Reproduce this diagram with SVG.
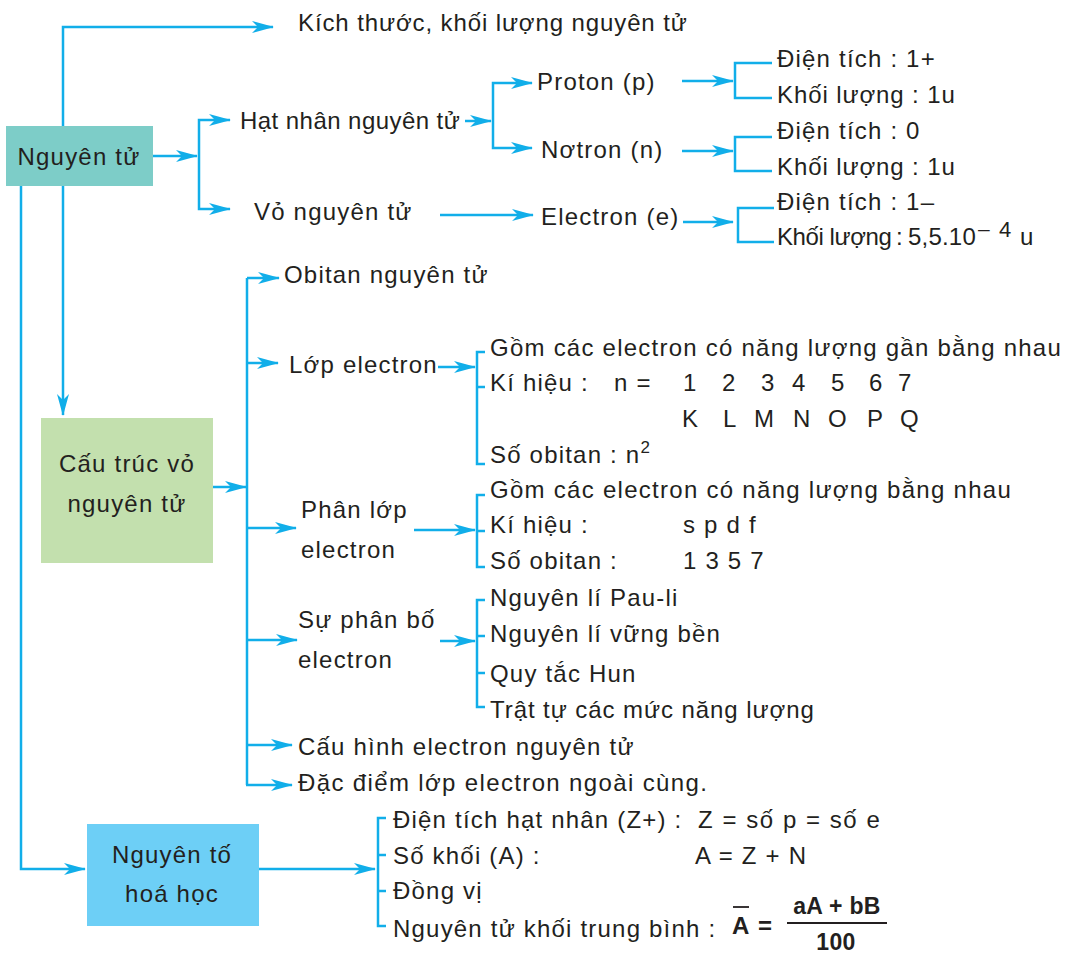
<svg xmlns="http://www.w3.org/2000/svg" width="1074" height="955" viewBox="0 0 1074 955">
<defs>
<marker id="ah" markerUnits="userSpaceOnUse" viewBox="0 0 22 12" markerWidth="22" markerHeight="12" refX="21" refY="6" orient="auto">
<path d="M22,6 L0,0 L6,6 L0,12 Z" fill="#11aee9"/>
</marker>
<style>
text{font-family:"Liberation Sans",Arial,sans-serif;font-size:24px;letter-spacing:1.2px;fill:#231f20}
.c{text-anchor:middle}
.sup{font-size:17px}
.b{font-weight:bold;letter-spacing:0.3px}
.ln{fill:none;stroke:#11aee9;stroke-width:2.5}
.ar{fill:none;stroke:#11aee9;stroke-width:2.5;marker-end:url(#ah)}
</style>
</defs>
<rect width="1074" height="955" fill="#ffffff"/>

<g id="connectors">
<path class="ar" d="M63,126 V27 H273"/>
<path class="ar" d="M153,156 H197"/>
<path class="ar" d="M199,156 V120 H230"/>
<path class="ar" d="M199,156 V209 H230"/>
<path class="ar" d="M465,121 H491"/>
<path class="ar" d="M493,121 V83 H532"/>
<path class="ar" d="M493,121 V148 H532"/>
<path class="ar" d="M682,81 H733"/>
<path class="ar" d="M682,151 H733"/>
<path class="ar" d="M683,222 H733"/>
<path class="ar" d="M440,215 H533"/>
<path class="ln" d="M772,63 H735 V98 H772"/>
<path class="ln" d="M772,137 H735 V171 H772"/>
<path class="ln" d="M774,208 H738 V242 H774"/>
<path class="ar" d="M63,186 V415"/>
<path class="ar" d="M21,186 V869 H85"/>
<path class="ar" d="M213,487 H246"/>
<path class="ln" d="M247,278 V785"/>
<path class="ar" d="M247,278 H279"/>
<path class="ar" d="M247,363 H278"/>
<path class="ar" d="M247,528 H296"/>
<path class="ar" d="M247,640 H297"/>
<path class="ar" d="M247,745 H292"/>
<path class="ar" d="M246,785 H292"/>
<path class="ar" d="M438,367 H475"/>
<path class="ln" d="M485,352 H477 V464 H485 M477,387 H485"/>
<path class="ar" d="M414,530 H475"/>
<path class="ln" d="M485,495 H477 V567 H485 M477,531 H485"/>
<path class="ar" d="M440,641 H475"/>
<path class="ln" d="M485,600 H477 V707 H485 M477,636 H485 M477,673 H485"/>
<path class="ar" d="M259,869 H375"/>
<path class="ln" d="M386,818 H378 V926 H386 M378,855 H386 M378,891 H386"/>
</g>

<g id="n-nguyentu">
<rect x="6" y="126" width="147" height="60" fill="#7dcdc8"/>
<text x="79" y="165" class="c">Nguyên tử</text>
</g>
<g id="n-kichthuoc"><text x="298" y="31" textLength="390" lengthAdjust="spacing">Kích thước, khối lượng nguyên tử</text></g>
<g id="n-hatnhan"><text x="240" y="129" textLength="221" lengthAdjust="spacing">Hạt nhân nguyên tử</text></g>
<g id="n-vo"><text x="254" y="220">Vỏ nguyên tử</text></g>
<g id="n-proton"><text x="537" y="90">Proton (p)</text></g>
<g id="n-notron"><text x="541" y="158">Nơtron (n)</text></g>
<g id="n-electron"><text x="541" y="225">Electron (e)</text></g>
<g id="n-proton-props">
<text x="777" y="67">Điện tích : 1+</text>
<text x="777" y="103" textLength="179" lengthAdjust="spacing">Khối lượng : 1u</text>
</g>
<g id="n-notron-props">
<text x="777" y="139">Điện tích : 0</text>
<text x="777" y="175" textLength="179" lengthAdjust="spacing">Khối lượng : 1u</text>
</g>
<g id="n-electron-props">
<text x="777" y="210">Điện tích : 1–</text>
<text x="777" y="245" textLength="116" lengthAdjust="spacing">Khối lượng</text>
<text x="896" y="245">:</text>
<text x="908" y="245" style="letter-spacing:0.2px">5,5.10</text>
<text x="978" y="236" style="font-size:21px;letter-spacing:0">–</text>
<text x="999" y="237" style="font-size:22px">4</text>
<text x="1020" y="245">u</text>
</g>

<g id="n-cautruc">
<rect x="41" y="418" width="172" height="145" fill="#c3e0ae"/>
<text x="127" y="472" class="c">Cấu trúc vỏ</text>
<text x="127" y="512" class="c">nguyên tử</text>
</g>
<g id="n-obitan"><text x="284" y="283">Obitan nguyên tử</text></g>
<g id="n-lop"><text x="289" y="373">Lớp electron</text></g>
<g id="n-lop-props">
<text x="490" y="356" textLength="572" lengthAdjust="spacing">Gồm các electron có năng lượng gần bằng nhau</text>
<text x="490" y="391">Kí hiệu :</text>
<text x="614" y="391">n =</text>
<text x="683" y="391">1</text>
<text x="722" y="391">2</text>
<text x="761" y="391">3</text>
<text x="792" y="391">4</text>
<text x="831" y="391">5</text>
<text x="869" y="391">6</text>
<text x="898" y="391">7</text>
<text x="682" y="427">K</text>
<text x="723" y="427">L</text>
<text x="754" y="427">M</text>
<text x="793" y="427">N</text>
<text x="828" y="427">O</text>
<text x="867" y="427">P</text>
<text x="900" y="427">Q</text>
<text x="490" y="463">Số obitan : n<tspan class="sup" dy="-10">2</tspan></text>
</g>
<g id="n-phanlop">
<text x="301" y="518">Phân lớp</text>
<text x="301" y="558">electron</text>
</g>
<g id="n-phanlop-props">
<text x="490" y="498" textLength="522" lengthAdjust="spacing">Gồm các electron có năng lượng bằng nhau</text>
<text x="490" y="533">Kí hiệu :</text>
<text x="683" y="533">s p d f</text>
<text x="490" y="569">Số obitan :</text>
<text x="683" y="569">1 3 5 7</text>
</g>
<g id="n-phanbo">
<text x="298" y="628">Sự phân bố</text>
<text x="298" y="668">electron</text>
</g>
<g id="n-phanbo-props">
<text x="490" y="606">Nguyên lí Pau-li</text>
<text x="490" y="642">Nguyên lí vững bền</text>
<text x="490" y="682">Quy tắc Hun</text>
<text x="490" y="718" textLength="325" lengthAdjust="spacing">Trật tự các mức năng lượng</text>
</g>
<g id="n-cauhinh"><text x="298" y="755">Cấu hình electron nguyên tử</text></g>
<g id="n-dacdiem"><text x="298" y="791" textLength="410" lengthAdjust="spacing">Đặc điểm lớp electron ngoài cùng.</text></g>

<g id="n-nguyento">
<rect x="87" y="824" width="172" height="102" fill="#6dcff6"/>
<text x="172" y="863" class="c">Nguyên tố</text>
<text x="172" y="902" class="c">hoá học</text>
</g>
<g id="n-nguyento-props">
<text x="393" y="828">Điện tích hạt nhân (Z+) :</text>
<text x="698" y="828" textLength="183" lengthAdjust="spacing">Z = số p = số e</text>
<text x="393" y="864">Số khối (A) :</text>
<text x="695" y="864">A = Z + N</text>
<text x="393" y="899">Đồng vị</text>
<text x="393" y="937">Nguyên tử khối trung bình :</text>
<text x="732" y="934" class="b">A</text>
<line x1="733" y1="907" x2="749" y2="907" stroke="#231f20" stroke-width="1.8"/>
<text x="758" y="934" class="b">=</text>
<text x="837" y="914" class="b c" style="font-size:23px">aA + bB</text>
<line x1="787" y1="923" x2="887" y2="923" stroke="#231f20" stroke-width="1.8"/>
<text x="836" y="950" class="b c" style="font-size:23px">100</text>
</g>
</svg>
